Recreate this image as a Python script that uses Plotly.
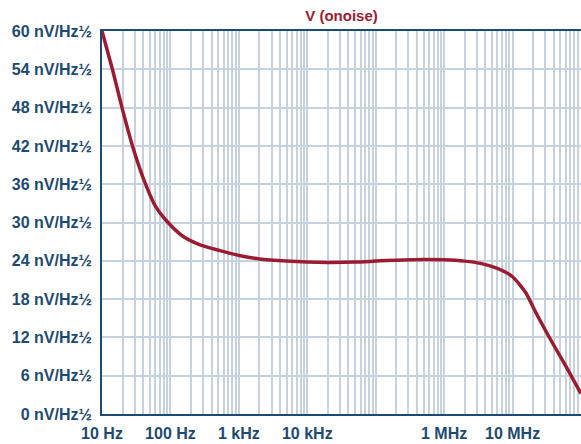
import plotly.graph_objects as go

# Data
freq_hz = [10, 14.2, 19.6, 27.9, 43.3, 60, 92.2, 154, 271, 531, 1050, 2000, 5000,
           10000, 20000, 50000, 100000, 200000, 500000, 1e6, 2e6, 3.4e6, 6e6,
           1e7, 1.56e7, 2.16e7, 3.4e7, 6e7, 1e8]
noise_nv = [60, 54, 48, 42, 36, 32.6, 30, 27.8, 26.5, 25.6, 24.8, 24.3, 23.95,
            23.8, 23.75, 23.8, 23.95, 24.1, 24.2, 24.15, 23.95, 23.6, 22.8,
            21.5, 19.0, 16.0, 12.1, 7.5, 3.2]

x_tick_vals = [10, 100, 1e3, 1e4, 1e5, 1e6, 1e7, 1e8]
x_tick_text = ["10 Hz", "100 Hz", "1 kHz", "10 kHz", "", "1 MHz", "10 MHz", ""]
y_tick_vals = [0, 6, 12, 18, 24, 30, 36, 42, 48, 54, 60]
y_tick_text = [f"{v} nV/Hz½" for v in y_tick_vals]

minor_vals = [m * 10 ** d for d in range(1, 8) for m in range(2, 10)]

AXIS = "#1d4a70"
GRID = "#c6d3de"
CURVE = "#9b1c31"
FONT = "Liberation Sans, Arial, sans-serif"

W, H = 581, 444

fig = go.Figure()
fig.add_trace(go.Scatter(
    x=freq_hz, y=noise_nv, mode="lines",
    line=dict(color=CURVE, width=3.5, shape="spline", smoothing=0.6),
    hoverinfo="skip", showlegend=False, cliponaxis=True,
))

fig.update_layout(
    width=W, height=H,
    margin=dict(l=102, r=0, t=31, b=30, autoexpand=False),
    paper_bgcolor="white", plot_bgcolor="white",
    title=dict(text="<b>V (onoise)</b>", x=(102 + W) / 2 / W, xanchor="center",
               y=1 - 16 / H, yanchor="middle",
               font=dict(family=FONT, size=15, color=CURVE)),
    font=dict(family=FONT, size=16, color=AXIS),
)

fig.update_xaxes(
    type="log", range=[1, 8], automargin=False,
    tickvals=x_tick_vals, ticktext=[f"<b>{t}</b>" if t else "" for t in x_tick_text],
    tickfont=dict(family=FONT, size=16, color=AXIS),
    showgrid=True, gridcolor=GRID, gridwidth=2,
    minor=dict(tickvals=minor_vals, showgrid=True, gridcolor=GRID, gridwidth=2, ticks=""),
    showline=True, linecolor=AXIS, linewidth=2, mirror=True,
    ticks="", ticklabelstandoff=4, zeroline=False,
)
fig.update_yaxes(
    range=[0, 60], automargin=False,
    tickvals=y_tick_vals, ticktext=[f"<b>{t}</b>" for t in y_tick_text],
    tickfont=dict(family=FONT, size=16, color=AXIS),
    showgrid=True, gridcolor=GRID, gridwidth=2,
    showline=True, linecolor=AXIS, linewidth=2, mirror=False,
    ticks="", ticklabelstandoff=5, zeroline=False,
)

# remove the browser's default page margin so the figure fills the window exactly
post = ("document.body.style.margin='0';"
        "document.body.style.overflow='hidden';"
        "document.documentElement.style.overflow='hidden';")
fig.write_html("out.html", post_script=post, config={"displayModeBar": False})
